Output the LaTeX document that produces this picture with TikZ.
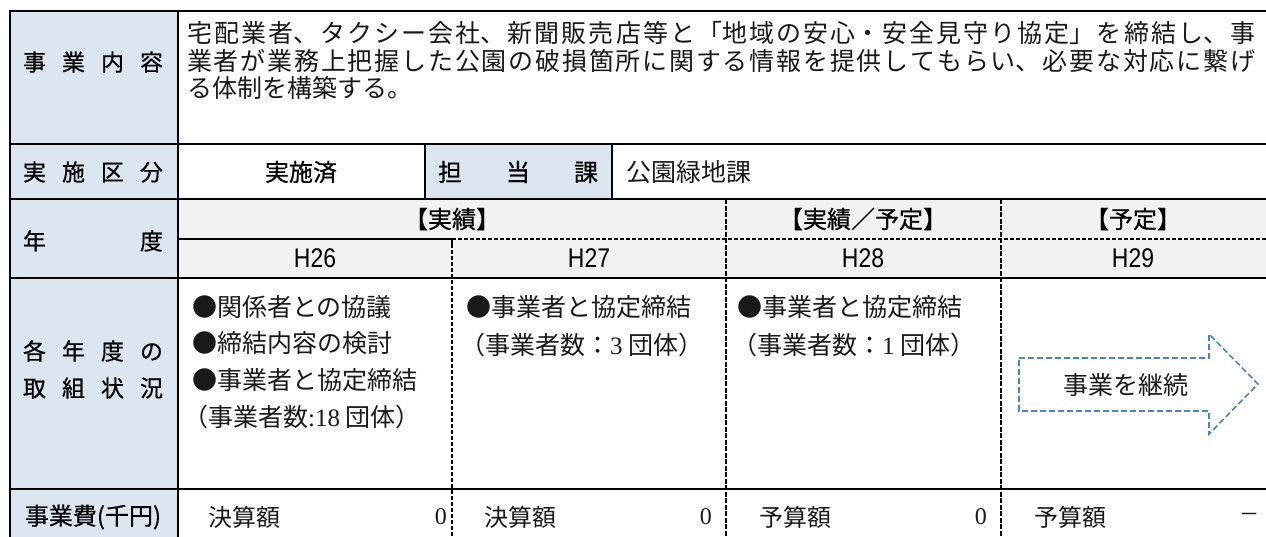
\documentclass[tikz,border=0pt]{standalone}
\usepackage{fontspec}
\setmainfont{Noto Sans CJK JP}
\newfontfamily\goth{Noto Sans CJK JP}[FakeBold=0.6]
\newfontfamily\minc{Noto Sans CJK JP}
\newfontfamily\serifnum{Liberation Serif}
\newfontfamily\narrow{Liberation Sans}
\definecolor{lblue}{RGB}{220,230,241}
\definecolor{lgray}{RGB}{242,242,242}
\definecolor{arrowblue}{RGB}{79,129,189}
\definecolor{ink}{RGB}{25,25,25}
\newcommand\jfill{\XeTeXlinebreaklocale "ja"\XeTeXlinebreakskip=0pt plus 1fil\relax\parfillskip=0pt\relax}
\newcommand\yr[1]{\scalebox{0.85}[1]{#1}}
\begin{document}
\begin{tikzpicture}[x=1pt,y=-1pt,
  grid/.style={line width=2pt},
  dgrid/.style={line width=2pt, dash pattern=on 4pt off 2pt},
  ddgrid/.style={line width=2.2pt, dash pattern=on 5pt off 1.5pt},
  lab/.style={font=\goth\fontsize{23}{26}\selectfont, inner sep=0},
  hd/.style={font=\goth\fontsize{24}{26}\selectfont, inner sep=0},
  year/.style={font=\narrow\fontsize{27}{30}\selectfont, inner sep=0},
  txt/.style={font=\minc\fontsize{25}{30}\selectfont, text=ink, inner sep=0, anchor=west},
  small/.style={font=\minc\fontsize{24}{28}\selectfont, text=ink, inner sep=0, anchor=west},
  num/.style={font=\serifnum\fontsize{24}{28}\selectfont, text=ink, inner sep=0, anchor=east},
  arrowline/.style={draw=arrowblue, line width=1.6pt, dash pattern=on 6pt off 3pt, line join=miter}
]
\useasboundingbox (0,0) rectangle (1266,536);
\begin{scope}
\clip (0,0) rectangle (1266,536);
% fills
\fill[lblue] (10,11) rectangle (178,560);
\fill[lblue] (425,144) rectangle (612,199);
\fill[lgray] (178,199) rectangle (1280,278);
% solid rules
\draw[grid] (10,560) -- (10,11) -- (1280,11);
\draw[grid] (10,144) -- (1280,144);
\draw[grid] (10,199) -- (1280,199);
\draw[grid] (10,278) -- (1280,278);
\draw[grid] (10,489) -- (1280,489);
\draw[grid] (178,11) -- (178,560);
\draw[grid] (425,144) -- (425,199);
\draw[grid] (612,144) -- (612,199);
\draw[grid] (178,239) -- (452,239) -- (452,244);
% dashed rules
\draw[dgrid] (452,239) -- (1280,239);
\draw[dgrid] (452,244) -- (452,560);
\draw[ddgrid] (726,199) -- (726,560);
\draw[ddgrid] (1001,199) -- (1001,560);
\end{scope}
% left labels
\node[lab] (l1) at (93,62) {\hbox to 140pt{事\hfill 業\hfill 内\hfill 容}};
\node[lab] (l2) at (93,172) {\hbox to 140pt{実\hfill 施\hfill 区\hfill 分}};
\node[lab] (l3) at (93,241) {\hbox to 140pt{年\hfill 度}};
\node[lab] (l4) at (93,351) {\hbox to 140pt{各\hfill 年\hfill 度\hfill の}};
\node[lab] (l5) at (93,388) {\hbox to 140pt{取\hfill 組\hfill 状\hfill 況}};
\node[lab, font=\goth\fontsize{24}{26}\selectfont] (l6) at (93,517) {事業費(千円)};
% description
\node[txt] (p1) at (187,33) {\parbox{1068pt}{\jfill 宅配業者、タクシー会社、新聞販売店等と「地域の安心・安全見守り協定」を締結し、事}};
\node[txt] (p2) at (187,60.5) {\parbox{1068pt}{\jfill 業者が業務上把握した公園の破損箇所に関する情報を提供してもらい、必要な対応に繋げ}};
\node[txt] (p3) at (187,88) {る体制を構築する。};
% category row
\node[lab, font=\goth\fontsize{24}{26}\selectfont] (v1) at (301,172) {実施済};
\node[lab, font=\goth\fontsize{24}{26}\selectfont] (v2) at (518,172) {\hbox to 160pt{担\hfill 当\hfill 課}};
\node[txt] (v3) at (626,172) {公園緑地課};
% headers
\node[hd] (h1) at (452,219) {【実績】};
\node[hd] (h2) at (863,219) {【実績／予定】};
\node[hd] (h3) at (1133,219) {【予定】};
\node[year] (y1) at (315,258) {\yr{H26}};
\node[year] (y2) at (589,258) {\yr{H27}};
\node[year] (y3) at (863,258) {\yr{H28}};
\node[year] (y4) at (1133,258) {\yr{H29}};
% H26
\node[txt] (a1) at (192,307) {●関係者との協議};
\node[txt] (a2) at (192,343) {●締結内容の検討};
\node[txt] (a3) at (192,380) {●事業者と協定締結};
\node[txt] (a4) at (183,417) {（事業者数{\serifnum :18} 団体）};
% H27
\node[txt] (b1) at (466,307) {●事業者と協定締結};
\node[txt] (b2) at (460,345) {（事業者数：{\serifnum 3} 団体）};
% H28
\node[txt] (c1) at (737,307) {●事業者と協定締結};
\node[txt] (c2) at (732,345) {（事業者数：{\serifnum 1} 団体）};
% H29 arrow
\draw[arrowline] (1019,358) -- (1209,358) -- (1209,334) -- (1258,384) -- (1209,434) -- (1209,411) -- (1019,411) -- cycle;
\node[font=\minc\fontsize{25}{30}\selectfont, text=ink, inner sep=0] (arr) at (1126,385) {事業を継続};
% budget row
\node[small] (k1) at (208,517) {決算額};
\node[num] (k1v) at (447,517) {0};
\node[small] (k2) at (484,517) {決算額};
\node[num] (k2v) at (712,517) {0};
\node[small] (k3) at (759,517) {予算額};
\node[num] (k3v) at (987,517) {0};
\node[small] (k4) at (1034,517) {予算額};
\node[font=\minc\fontsize{20}{24}\selectfont, text=ink, inner sep=0, anchor=east] (k4v) at (1260,517) {－};
\end{tikzpicture}
\end{document}
